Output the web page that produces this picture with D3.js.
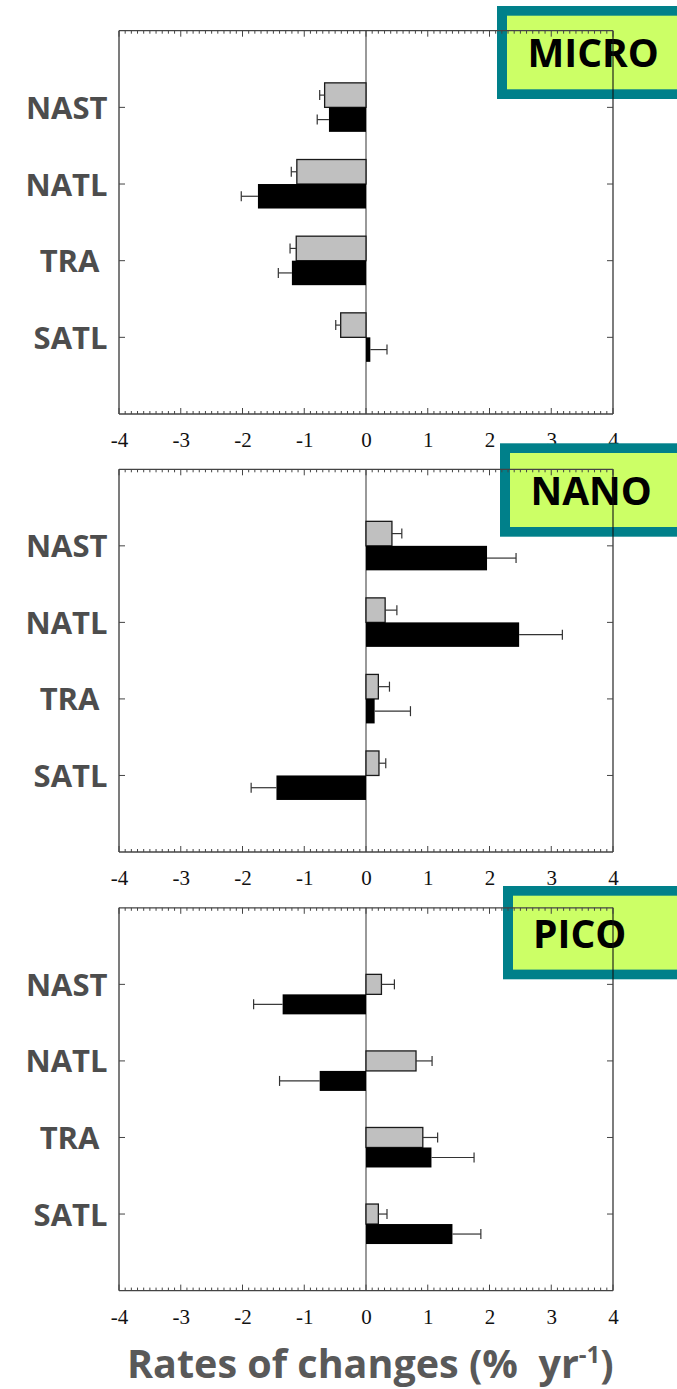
<!DOCTYPE html>
<html>
<head>
<meta charset="utf-8">
<script src="https://cdn.jsdelivr.net/npm/d3@7"></script>
<style>
  html, body { margin: 0; padding: 0; background: #fff; }
  svg { display: block; }
  text { white-space: pre; }
  .xtick text { font-family: 'Liberation Serif', 'Times New Roman', serif; }
</style>
</head>
<body>
<svg id="chart" width="677" height="1389"></svg>
<script>
// Regions (y axis, top to bottom)
const categories = ["NAST", "NATL", "TRA ", "SATL"];
const xTickValues = [-4, -3, -2, -1, 0, 1, 2, 3, 4];

// Size classes
const panelNames = ["MICRO", "NANO", "PICO"];

// Rates of change (% yr-1): grey series and black series, with one-sided error bars
const microGrey = [-0.67, -1.12, -1.13, -0.41];
const microGreyErr = [0.08, 0.09, 0.10, 0.08];
const microBlack = [-0.60, -1.75, -1.20, 0.07];
const microBlackErr = [0.19, 0.27, 0.22, 0.27];

const nanoGrey = [0.42, 0.31, 0.20, 0.21];
const nanoGreyErr = [0.16, 0.19, 0.18, 0.11];
const nanoBlack = [1.96, 2.48, 0.14, -1.45];
const nanoBlackErr = [0.47, 0.70, 0.58, 0.41];

const picoGrey = [0.25, 0.81, 0.92, 0.20];
const picoGreyErr = [0.21, 0.26, 0.24, 0.14];
const picoBlack = [-1.35, -0.75, 1.06, 1.40];
const picoBlackErr = [0.47, 0.65, 0.69, 0.46];

const seriesByPanel = [
  { grey: microGrey, greyErr: microGreyErr, black: microBlack, blackErr: microBlackErr },
  { grey: nanoGrey, greyErr: nanoGreyErr, black: nanoBlack, blackErr: nanoBlackErr },
  { grey: picoGrey, greyErr: picoGreyErr, black: picoBlack, blackErr: picoBlackErr }
];

// Panel geometry
const layout = [
  { top: 30.7, bottom: 414, barH: 24.5, greyOff: -24.5,
    box: { x: 497, y: 6, h: 93 }, labelX: 527.5, labelBase: 66.5 },
  { top: 469.3, bottom: 852, barH: 24.5, greyOff: -24.5,
    box: { x: 500, y: 443.3, h: 93.4 }, labelX: 530.5, labelBase: 505 },
  { top: 907.8, bottom: 1290.6, barH: 20, greyOff: -10,
    box: { x: 503, y: 886, h: 93.3 }, labelX: 533, labelBase: 948.3 }
];

const svg = d3.select("#chart");
const x = d3.scaleLinear().domain([-4, 4]).range([119, 613]);
const minorTicks = d3.range(-40, 41).map(d => d / 10);

const labelLayer = svg.append("g");
const boxLayer = svg.append("g");

layout.forEach((L, p) => {
  const g = svg.append("g");
  const y = d3.scaleLinear().domain([0, 5]).range([L.top, L.bottom]);
  const s = seriesByPanel[p];

  // zero line
  g.append("line")
    .attr("x1", x(0)).attr("x2", x(0))
    .attr("y1", L.top).attr("y2", L.bottom)
    .attr("stroke", "#555").attr("stroke-width", 1.2);

  // bars
  const drawBars = (vals, errs, off, fill, stroke) => {
    const bg = g.append("g");
    vals.forEach((v, i) => {
      const yc = y(i + 1) + off;
      const x0 = Math.min(x(0), x(v));
      const w = Math.abs(x(v) - x(0));
      bg.append("rect")
        .attr("x", x0).attr("y", yc)
        .attr("width", Math.max(w, 1)).attr("height", L.barH)
        .attr("fill", fill)
        .attr("stroke", stroke).attr("stroke-width", stroke === "none" ? 0 : 1.3);
      const end = v + Math.sign(v || 1) * errs[i];
      const ym = yc + L.barH / 2;
      bg.append("line")
        .attr("x1", x(v)).attr("x2", x(end))
        .attr("y1", ym).attr("y2", ym)
        .attr("stroke", "#333").attr("stroke-width", 1.2);
      bg.append("line")
        .attr("x1", x(end)).attr("x2", x(end))
        .attr("y1", ym - 5).attr("y2", ym + 5)
        .attr("stroke", "#333").attr("stroke-width", 1.2);
    });
  };
  drawBars(s.grey, s.greyErr, L.greyOff, "#c0c0c0", "#1a1a1a");
  drawBars(s.black, s.blackErr, L.greyOff + L.barH, "#000", "none");

  // frame
  g.append("line").attr("x1", x(-4)).attr("x2", x(-4)).attr("y1", L.top).attr("y2", L.bottom)
    .attr("stroke", "#6e6e6e").attr("stroke-width", 1.8);
  g.append("line").attr("x1", x(4)).attr("x2", x(4)).attr("y1", L.top).attr("y2", L.bottom)
    .attr("stroke", "#111").attr("stroke-width", 1.1);
  g.append("line").attr("x1", x(-4)).attr("x2", x(4)).attr("y1", L.top).attr("y2", L.top)
    .attr("stroke", "#444").attr("stroke-width", 1.3);
  g.append("line").attr("x1", x(-4)).attr("x2", x(4)).attr("y1", L.bottom).attr("y2", L.bottom)
    .attr("stroke", "#444").attr("stroke-width", 1.3);

  // inward ticks on top and bottom edges
  minorTicks.forEach(t => {
    const major = Math.abs(t - Math.round(t)) < 1e-9;
    const len = major ? 6 : 3;
    g.append("line").attr("x1", x(t)).attr("x2", x(t))
      .attr("y1", L.top).attr("y2", L.top + len)
      .attr("stroke", "#444").attr("stroke-width", 1);
    g.append("line").attr("x1", x(t)).attr("x2", x(t))
      .attr("y1", L.bottom).attr("y2", L.bottom - len)
      .attr("stroke", "#444").attr("stroke-width", 1);
  });

  // category ticks on left and right edges
  categories.forEach((c, i) => {
    g.append("line").attr("x1", x(-4)).attr("x2", x(-4) + 6)
      .attr("y1", y(i + 1)).attr("y2", y(i + 1))
      .attr("stroke", "#444").attr("stroke-width", 1);
    g.append("line").attr("x1", x(4)).attr("x2", x(4) - 6)
      .attr("y1", y(i + 1)).attr("y2", y(i + 1))
      .attr("stroke", "#444").attr("stroke-width", 1);
    labelLayer.append("text")
      .attr("x", 107.5).attr("y", y(i + 1) + 11.5)
      .attr("text-anchor", "end")
      .style("font-family", "'Open Sans', sans-serif")
      .attr("font-weight", 700).attr("font-size", 31)
      .attr("fill", "#4d4d4d")
      .text(c);
  });

  // x tick labels
  const ax = labelLayer.append("g")
    .attr("class", "xtick")
    .attr("transform", `translate(0,${L.bottom})`)
    .call(d3.axisBottom(x).tickValues(xTickValues).tickSize(0).tickFormat(d => String(d)));
  ax.attr("font-family", null);
  ax.select(".domain").remove();
  ax.selectAll("text")
    .attr("y", 33).attr("dy", 0)
    .style("font-family", "'Liberation Serif', 'Times New Roman', serif")
    .style("font-size", "21px").attr("fill", "#111");

  // size-class badge
  boxLayer.append("rect")
    .attr("x", L.box.x).attr("y", L.box.y)
    .attr("width", 700 - L.box.x).attr("height", L.box.h)
    .attr("fill", "#00808a");
  boxLayer.append("rect")
    .attr("x", L.box.x + 10).attr("y", L.box.y + 9.7)
    .attr("width", 700 - L.box.x).attr("height", L.box.h - 19.4)
    .attr("fill", "#ccff66");
  boxLayer.append("text")
    .attr("x", L.labelX).attr("y", L.labelBase)
    .style("font-family", "'Open Sans', sans-serif")
    .attr("font-weight", 700).attr("font-size", 39)
    .attr("fill", "#000")
    .text(panelNames[p]);
});

// axis title
const title = svg.append("text")
  .attr("x", 127).attr("y", 1378)
  .style("font-family", "'Open Sans', sans-serif")
  .attr("font-weight", 700).attr("font-size", 39.5)
  .attr("fill", "#595959");
title.append("tspan").text("Rates of changes (%  yr");
title.append("tspan").attr("font-size", 24).attr("dy", -15).text("-1");
title.append("tspan").attr("dy", 15).text(")");
</script>
</body>
</html>
